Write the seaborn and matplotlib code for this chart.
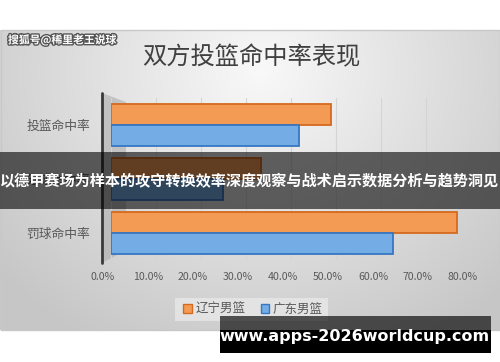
import numpy as np
import pandas as pd
import matplotlib
matplotlib.use("Agg")
import matplotlib.pyplot as plt
import seaborn as sns
from matplotlib.patches import Rectangle, Polygon, Patch
from matplotlib.transforms import ScaledTranslation
import matplotlib.patheffects as pe

# ---- data ----
categories = ["投篮命中率", "三分球命中率", "罚球命中率"]
teams = ["辽宁男篮", "广东男篮"]
liaoning = [0.489, 0.333, 0.769]
guangdong = [0.418, 0.249, 0.627]
xticks = [0.0, 0.1, 0.2, 0.3, 0.4, 0.5, 0.6, 0.7, 0.8]
xtick_labels = ["0.0%", "10.0%", "20.0%", "30.0%", "40.0%", "50.0%", "60.0%", "70.0%", "80.0%"]
title = "双方投篮命中率表现"
watermark = "搜狐号@稀里老王说球"
banner_text = "以德甲赛场为样本的攻守转换效率深度观察与战术启示数据分析与趋势洞见"
url_text = "www.apps-2026worldcup.com"

sns.set_theme(style="white")
plt.rcParams["font.family"] = ["Noto Sans CJK SC", "DejaVu Sans"]

W, H = 500, 362
fig = plt.figure(figsize=(W / 100, H / 100), dpi=100)
fig.patch.set_facecolor("white")

# ---- background panel (pixel coords) ----
bg = fig.add_axes([0, 0, 1, 1], zorder=0)
bg.set_xlim(0, W)
bg.set_ylim(H, 0)
bg.axis("off")
yy, xx = np.mgrid[30:330, 0:500]
d = np.sqrt(((xx - 260) / 330.0) ** 2 + ((yy - 70) / 300.0) ** 2)
g = np.clip(0.975 - 0.19 * d, 0.78, 0.98)
bg.imshow(np.dstack([g, g, g]), extent=(0, 500, 330, 30), aspect="auto", zorder=0)
bg.add_patch(Rectangle((0.5, 30), 499, 300, fill=False, edgecolor="#c8c8c8", lw=1, zorder=1))
# 3D side wall of the value axis
bg.add_patch(Polygon([(102, 93), (126, 102), (126, 250), (102, 263)], closed=True,
                     facecolor="#a9a9a9", edgecolor="none", alpha=0.55, zorder=1))
bg.plot([102, 102], [93, 263], color="#3a3a3a", lw=2, zorder=2)

# ---- main chart ----
ax = fig.add_axes([111 / W, 1 - 260 / H, 360 / W, 162 / H], zorder=2)
ax.patch.set_alpha(0)
df = pd.DataFrame({
    "category": categories * 2,
    "team": [teams[0]] * 3 + [teams[1]] * 3,
    "value": liaoning + guangdong,
})
palette = {teams[0]: "#F39A55", teams[1]: "#74ADE6"}
edges = ["#D46A1E", "#3677C4"]
sns.barplot(data=df, x="value", y="category", hue="team", order=categories,
            hue_order=teams, palette=palette, width=0.76, orient="h",
            saturation=1, ax=ax, legend=False, zorder=3)
for cont, ec in zip(ax.containers, edges):
    for bar in cont:
        bar.set_edgecolor(ec)
        bar.set_linewidth(1.3)
ax.set_xlim(0, 0.8)
ax.set_ylim(2.5, -0.5)
ax.set_xticks(xticks)
ax.set_xticklabels(xtick_labels, fontsize=7.6, color="#595959")
ax.tick_params(axis="x", length=0, pad=9)
ax.tick_params(axis="y", length=0, pad=15)
for lab in ax.get_yticklabels():
    lab.set_fontsize(9.2)
    lab.set_color("#595959")
for lab in ax.get_xticklabels():
    lab.set_transform(lab.get_transform() + ScaledTranslation(-0.08, 0, fig.dpi_scale_trans))
ax.set_xlabel("")
ax.set_ylabel("")
ax.grid(axis="x", color="#d4d4d4", lw=0.8, zorder=0)
for s in ax.spines.values():
    s.set_visible(False)

# ---- title & watermark ----
fig.text(251 / W, 1 - 57 / H, title, ha="center", va="center", fontsize=17.5,
         color="#404040")
fig.text(8 / W, 1 - 40 / H, watermark, ha="left", va="center", fontsize=7.8,
         color="white", fontweight="bold",
         path_effects=[pe.withStroke(linewidth=2, foreground="#555555")])

# ---- legend ----
bg.add_patch(Rectangle((175, 298), 153, 23, facecolor="#e8e8e8", edgecolor="none",
                       alpha=0.8, zorder=3))
handles = [Patch(facecolor=palette[t], edgecolor=e, lw=1) for t, e in zip(teams, edges)]
leg = fig.legend(handles, teams, loc="center", bbox_to_anchor=(253 / W, 1 - 309.5 / H),
                 ncol=2, frameon=False, fontsize=9, handlelength=0.7, handleheight=0.7,
                 handletextpad=0.3, columnspacing=1.2, borderaxespad=0)
for t in leg.get_texts():
    t.set_color("#595959")

# ---- overlays ----
ov = fig.add_axes([0, 0, 1, 1], zorder=5)
ov.set_xlim(0, W)
ov.set_ylim(H, 0)
ov.axis("off")
ov.patch.set_alpha(0)
ov.add_patch(Rectangle((0, 152), 500, 57, facecolor="black", alpha=0.6, edgecolor="none"))
ov.text(250, 181, banner_text, ha="center", va="center", fontsize=10.9,
        fontweight="bold", color="white")
ov.add_patch(Rectangle((220, 316), 271, 14, facecolor="black", alpha=0.65, edgecolor="none"))
ov.add_patch(Rectangle((220, 330), 271, 23, facecolor="black", edgecolor="none"))
ov.text(355, 337, url_text, ha="center", va="center", fontsize=11.5,
        fontweight="bold", color="white", family="DejaVu Sans")

fig.savefig("out.png", dpi=100)
